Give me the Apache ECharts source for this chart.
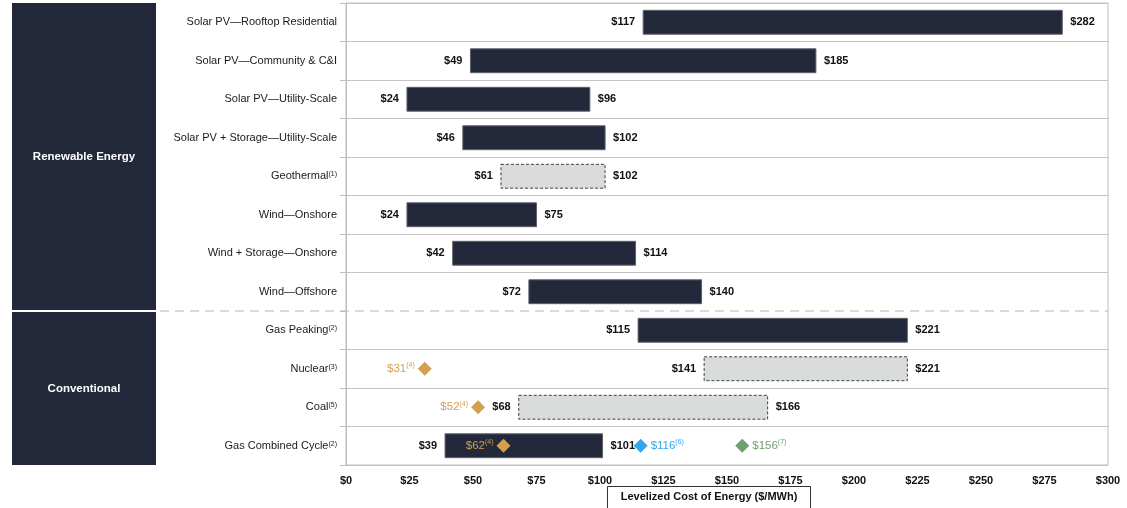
<!DOCTYPE html>
<html><head><meta charset="utf-8">
<script src="https://cdn.jsdelivr.net/npm/echarts@6/dist/echarts.min.js"></script>
<style>html,body{margin:0;padding:0;background:#fff}#c{width:1127px;height:508px}</style>
</head><body><div id="c"></div>
<script>
const categories = ['Solar PV\u2014Rooftop Residential','Solar PV\u2014Community & C&I','Solar PV\u2014Utility-Scale','Solar PV + Storage\u2014Utility-Scale','Geothermal','Wind\u2014Onshore','Wind + Storage\u2014Onshore','Wind\u2014Offshore','Gas Peaking','Nuclear','Coal','Gas Combined Cycle'];
const categoryNotes = ['','','','','(1)','','','','(2)','(3)','(5)','(2)'];
const lowValues = [117,49,24,46,61,24,42,72,115,141,68,39];
const highValues = [282,185,96,102,102,75,114,140,221,221,166,101];
const dashedRows = [0,0,0,0,1,0,0,0,0,1,1,0];
const markerRows = ['Nuclear','Coal','Gas Combined Cycle','Gas Combined Cycle','Gas Combined Cycle'];
const markerValues = [31,52,62,116,156];
const markerNotes = ['(4)','(4)','(4)','(6)','(7)'];
const markerKinds = ['gold','gold','gold','blue','green'];
const groupNames = ['Renewable Energy','Conventional'];
const groupSizes = [8,4];
const axisName = 'Levelized Cost of Energy ($/MWh)';

const FONT = 'Arial, "Liberation Sans", sans-serif';
const NAVY = '#23283a';
const kindColor = {gold:'#d2a050', blue:'#31a6f0', green:'#6f9f6f'};

const chart = echarts.init(document.getElementById('c'));
const barData = categories.map((c,i)=>[lowValues[i], highValues[i], i, dashedRows[i]]);
const markerData = markerValues.map((v,i)=>({
  value:[v, markerRows[i]],
  itemStyle:{color:kindColor[markerKinds[i]], opacity:1},
  label:{
    position: markerKinds[i]==='gold' ? 'left' : 'right',
    distance: 3,
    formatter: '{v|$'+v+'}{s|'+markerNotes[i]+'}',
    rich:{
      v:{fontSize:11.5, fontFamily:FONT, color:kindColor[markerKinds[i]], lineHeight:14},
      s:{fontSize:7, fontFamily:FONT, color:kindColor[markerKinds[i]], verticalAlign:'top', lineHeight:8, padding:[0,0,6,0]}
    }
  }
}));

chart.setOption({
  animation:false,
  grid:{left:346, right:19, top:3, bottom:43, show:true, borderColor:'#bdbdbd', borderWidth:1},
  xAxis:{
    type:'value', min:0, max:300, interval:25,
    axisLine:{show:false}, axisTick:{show:false}, splitLine:{show:false},
    axisLabel:{formatter:v=>'$'+v, fontFamily:FONT, fontSize:11, fontWeight:'bold', color:'#111', margin:10}
  },
  yAxis:{
    type:'category', data:categories, inverse:true,
    axisLine:{show:true, lineStyle:{color:'#bdbdbd'}},
    axisTick:{show:true, length:6, lineStyle:{color:'#bdbdbd'}},
    splitLine:{show:true, interval:(idx)=>idx!==8, lineStyle:{color:'#c4c4c4', width:1}},
    axisLabel:{
      margin:9, fontFamily:FONT, fontSize:11, color:'#1a1a1a',
      formatter:(v,i)=> categoryNotes[i] ? v+'{s|'+categoryNotes[i]+'}' : v,
      rich:{s:{fontSize:7, fontFamily:FONT, color:'#1a1a1a', verticalAlign:'top', lineHeight:8, padding:[0,0,6,0]}}
    }
  },
  series:[
    {
      type:'custom', data:barData, encode:{x:[0,1], y:2},
      renderItem:(params, api)=>{
        const idx = api.value(2);
        const s = api.coord([api.value(0), idx]);
        const e = api.coord([api.value(1), idx]);
        const band = api.size([0,1])[1];
        const h = band*0.62;
        const dashed = dashedRows[idx];
        const txt = (t,x,y,al)=>({type:'text', z2:10, style:{text:t, x:x, y:y, align:al, textAlign:al, verticalAlign:'middle', textVerticalAlign:'middle', font:'bold 11px '+FONT, fill:'#111'}});
        return {type:'group', children:[
          {type:'rect', shape:{x:s[0], y:s[1]-h/2, width:e[0]-s[0], height:h},
           style:{fill: dashed ? '#d9dcdb' : NAVY, stroke: dashed ? '#3b3f4d' : '#5c606c', lineWidth:1, lineDash: dashed ? [3,2] : null}},
          txt('$'+api.value(0), s[0]-8, s[1], 'right'),
          txt('$'+api.value(1), e[0]+8, e[1], 'left')
        ]};
      }
    },
    {
      type:'scatter', data:markerData, symbol:'diamond', symbolSize:14, z:5,
      itemStyle:{opacity:1},
      label:{show:true},
      emphasis:{disabled:true}
    }
  ]
});

function drawGraphics(){
  const c0 = chart.convertToPixel({yAxisIndex:0}, categories[0]);
  const c1 = chart.convertToPixel({yAxisIndex:0}, categories[1]);
  const band = c1 - c0;
  const top = c0 - band/2;
  const x1 = chart.convertToPixel({xAxisIndex:0}, 300);
  const els = [];
  let start = 0;
  groupNames.forEach((g,k)=>{
    const y0 = top + start*band + (k>0 ? 1 : 0);
    const y1 = top + (start+groupSizes[k])*band - (k===0 ? 1 : 0);
    els.push({type:'rect', shape:{x:12, y:y0, width:144, height:y1-y0}, style:{fill:NAVY}});
    els.push({type:'text', style:{text:g, x:84, y:(y0+y1)/2, align:'center', textAlign:'center', verticalAlign:'middle', textVerticalAlign:'middle', font:'bold 11.5px '+FONT, fill:'#fff'}});
    start += groupSizes[k];
  });
  const sepY = top + groupSizes[0]*band;
  els.push({type:'line', shape:{x1:160, y1:sepY, x2:x1, y2:sepY}, style:{stroke:'#b5b5b5', lineWidth:1, lineDash:[9,6]}});
  els.push({type:'rect', shape:{x:607.5, y:486.5, width:203, height:24}, style:{fill:'#fff', stroke:'#333', lineWidth:1}});
  els.push({type:'text', style:{text:axisName, x:709, y:497, align:'center', textAlign:'center', verticalAlign:'middle', textVerticalAlign:'middle', font:'bold 11px '+FONT, fill:'#111'}});
  chart.setOption({graphic:{elements:els}});
}
drawGraphics();
</script>
</body></html>
